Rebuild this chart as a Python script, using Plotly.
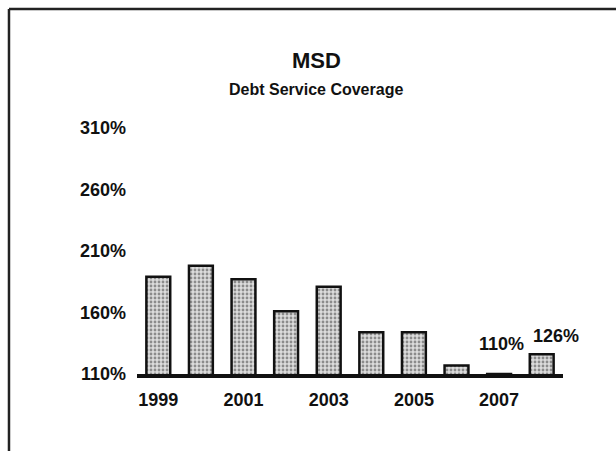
import plotly.graph_objects as go

years = [1999, 2000, 2001, 2002, 2003, 2004, 2005, 2006, 2007, 2008]
coverage = [189, 198, 187, 161, 181, 144, 144, 117, 110, 126]
point_labels = ["", "", "", "", "", "", "", "", "110%", "126%"]
y_ticks = [110, 160, 210, 260, 310]
y_tick_text = ["110%", "160%", "210%", "260%", "310%"]
x_ticks = [1999, 2001, 2003, 2005, 2007]
title_text = "MSD"
subtitle_text = "Debt Service Coverage"

FONT = "Liberation Sans, Arial, sans-serif"

fig = go.Figure()
fig.add_trace(go.Bar(
    x=years, y=coverage, width=0.56,
    marker=dict(
        color="#d0d0d0",
        line=dict(color="#111111", width=2.5),
        pattern=dict(shape=".", fgcolor="#3a3a3a", bgcolor="#dcdcdc", size=4, solidity=0.4),
    ),
    hoverinfo="skip",
))

# value labels
label_shift = {8: (2, 18), 9: (14, 6)}
for i, (yr, v, t) in enumerate(zip(years, coverage, point_labels)):
    if t:
        xs, ys = label_shift.get(i, (0, 6))
        fig.add_annotation(x=yr, y=v, text="<b>" + t + "</b>", showarrow=False, xanchor="center",
                           yanchor="bottom", xshift=xs, yshift=ys,
                           font=dict(family=FONT, size=18, color="#111111"))

# titles
fig.add_annotation(x=0.4225, y=1.2724, xref="paper", yref="paper", text="<b>" + title_text + "</b>",
                   showarrow=False, xanchor="center", yanchor="middle",
                   font=dict(family=FONT, size=22, color="#111111"))
fig.add_annotation(x=0.42, y=1.1545, xref="paper", yref="paper", text="<b>" + subtitle_text + "</b>",
                   showarrow=False, xanchor="center", yanchor="middle",
                   font=dict(family=FONT, size=16, color="#111111"))

# frame (scanned border: top and left edges)
fig.add_shape(type="line", xref="paper", yref="paper", x0=-0.3005, x1=1.13, y0=1.4837, y1=1.4837,
              line=dict(color="#222222", width=2.5))
fig.add_shape(type="line", xref="paper", yref="paper", x0=-0.3005, x1=-0.3005, y0=-0.32, y1=1.4837,
              line=dict(color="#222222", width=2.5))

fig.update_layout(
    width=616, height=451, autosize=False,
    margin=dict(l=137, r=53, t=128, b=77),
    paper_bgcolor="white", plot_bgcolor="white",
    showlegend=False,
    font=dict(family=FONT, color="#111111"),
)
fig.update_xaxes(
    range=[1998.5, 2008.5], tickvals=x_ticks, ticktext=[str(t) for t in x_ticks],
    showgrid=False, zeroline=False, showline=True, linecolor="#111111", linewidth=4,
    ticks="", ticklabelstandoff=6,
    tickfont=dict(family=FONT, size=18, color="#111111", weight="bold"),
)
fig.update_yaxes(
    range=[110, 310], tickvals=y_ticks, ticktext=y_tick_text,
    showgrid=False, zeroline=False, showline=False, ticks="", ticklabelstandoff=10,
    tickfont=dict(family=FONT, size=18, color="#111111", weight="bold"),
)

fig.write_html("out.html")
